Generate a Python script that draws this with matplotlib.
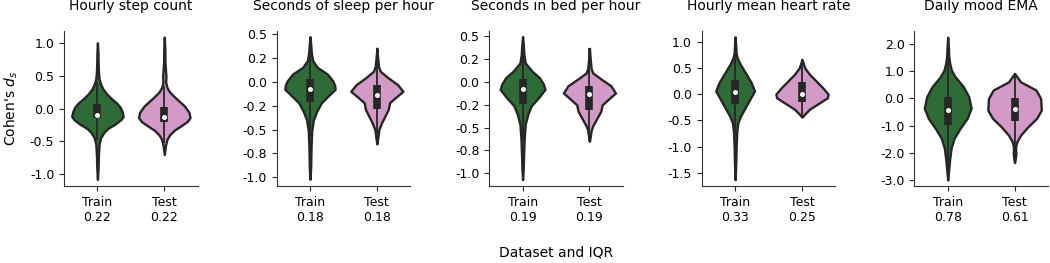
import matplotlib
matplotlib.use("Agg")
import matplotlib.pyplot as plt
import numpy as np
from matplotlib.ticker import FormatStrFormatter, MultipleLocator

# panel titles and IQR labels under the categories
titles = ["Hourly step count", "Seconds of sleep per hour", "Seconds in bed per hour",
          "Hourly mean heart rate", "Daily mood EMA"]
groups = ["Train", "Test"]
iqr_train = ["0.22", "0.18", "0.19", "0.33", "0.78"]
iqr_test = ["0.22", "0.18", "0.19", "0.25", "0.61"]

# violin outlines: y values and half widths (x data units)
train_y = [
    [1.0, 0.85, 0.7, 0.55, 0.45, 0.38, 0.3, 0.22, 0.15, 0.08, 0.02, -0.05, -0.12, -0.17, -0.24, -0.3, -0.36, -0.44, -0.54, -0.7, -0.9, -1.08],
    [0.47, 0.38, 0.3, 0.22, 0.15, 0.08, 0.01, -0.04, -0.08, -0.13, -0.22, -0.31, -0.4, -0.52, -0.7, -0.9, -1.02],
    [0.5, 0.4, 0.3, 0.21, 0.12, 0.05, -0.02, -0.08, -0.17, -0.26, -0.35, -0.46, -0.61, -0.8, -0.95, -1.07],
    [1.09, 0.9, 0.78, 0.69, 0.57, 0.38, 0.22, 0.06, -0.1, -0.26, -0.42, -0.55, -0.71, -1.0, -1.3, -1.63],
    [2.25, 1.9, 1.55, 1.29, 1.04, 0.8, 0.43, 0.06, -0.36, -0.73, -1.1, -1.47, -1.83, -2.26, -2.6, -3.0],
]
train_w = [
    [0.0, 0.008, 0.01, 0.015, 0.025, 0.045, 0.08, 0.14, 0.21, 0.29, 0.34, 0.37, 0.385, 0.35, 0.26, 0.16, 0.1, 0.05, 0.025, 0.015, 0.01, 0.0],
    [0.0, 0.012, 0.02, 0.04, 0.11, 0.26, 0.34, 0.37, 0.375, 0.3, 0.17, 0.1, 0.05, 0.025, 0.015, 0.01, 0.0],
    [0.0, 0.012, 0.02, 0.04, 0.14, 0.25, 0.31, 0.335, 0.24, 0.13, 0.08, 0.04, 0.025, 0.015, 0.01, 0.0],
    [0.0, 0.01, 0.015, 0.03, 0.075, 0.165, 0.24, 0.29, 0.22, 0.15, 0.08, 0.04, 0.025, 0.015, 0.01, 0.0],
    [0.0, 0.01, 0.015, 0.03, 0.055, 0.11, 0.235, 0.315, 0.35, 0.29, 0.185, 0.095, 0.05, 0.028, 0.015, 0.0],
]
test_y = [
    [1.087, 0.9, 0.7, 0.55, 0.48, 0.4, 0.32, 0.25, 0.16, 0.04, -0.06, -0.14, -0.2, -0.27, -0.33, -0.4, -0.47, -0.55, -0.7],
    [0.35, 0.25, 0.16, 0.11, 0.04, -0.03, -0.1, -0.17, -0.22, -0.29, -0.36, -0.43, -0.5, -0.58, -0.65],
    [0.37, 0.25, 0.15, 0.1, 0.03, -0.04, -0.12, -0.19, -0.25, -0.32, -0.4, -0.48, -0.53, -0.6, -0.65],
    [0.66, 0.5, 0.38, 0.25, 0.12, 0.0, -0.07, -0.16, -0.29, -0.39, -0.44],
    [0.92, 0.61, 0.31, 0.0, -0.43, -0.73, -1.04, -1.35, -1.59, -1.75, -1.9, -2.02, -2.2, -2.36],
]
test_w = [
    [0.0, 0.008, 0.01, 0.02, 0.025, 0.02, 0.04, 0.08, 0.17, 0.3, 0.37, 0.385, 0.34, 0.24, 0.15, 0.08, 0.04, 0.02, 0.0],
    [0.0, 0.012, 0.025, 0.05, 0.17, 0.31, 0.39, 0.27, 0.19, 0.17, 0.12, 0.07, 0.03, 0.015, 0.0],
    [0.0, 0.012, 0.025, 0.05, 0.18, 0.32, 0.39, 0.28, 0.19, 0.17, 0.11, 0.05, 0.025, 0.012, 0.0],
    [0.0, 0.04, 0.11, 0.21, 0.31, 0.39, 0.38, 0.27, 0.11, 0.035, 0.0],
    [0.0, 0.09, 0.32, 0.39, 0.4, 0.33, 0.2, 0.09, 0.035, 0.018, 0.016, 0.02, 0.012, 0.0],
]

# inner box: quartiles, median and whisker ends
train_q1 = [-0.15, -0.21, -0.24, -0.18, -0.98]
train_med = [-0.10, -0.08, -0.08, 0.04, -0.43]
train_q3 = [0.07, 0.03, 0.03, 0.26, 0.06]
train_lo = [-0.48, -0.57, -0.645, -0.84, -2.54]
train_hi = [0.40, 0.39, 0.43, 0.92, 1.62]
test_q1 = [-0.20, -0.29, -0.31, -0.16, -0.82]
test_med = [-0.13, -0.14, -0.13, 0.0, -0.38]
test_q3 = [0.02, -0.03, -0.04, 0.22, 0.03]
test_lo = [-0.53, -0.65, -0.65, -0.44, -2.1]
test_hi = [0.35, 0.35, 0.37, 0.66, 0.92]

ylims = [(-1.18, 1.18), (-1.09, 0.53), (-1.14, 0.56), (-1.75, 1.2), (-3.22, 2.48)]
ysteps = [0.5, 0.25, 0.25, 0.5, 1.0]

colors = ["#2e6b36", "#d39ac7"]
edge = "#262626"

plt.rcParams["font.family"] = "DejaVu Sans"

fig, axes = plt.subplots(1, 5, figsize=(10.5, 2.63), dpi=100)
fig.subplots_adjust(left=64 / 1050, right=1048 / 1050, bottom=1 - 186 / 263,
                    top=1 - 31 / 263, wspace=79 / 134)


def draw_violin(ax, pos, ys, ws, color, q1, med, q3, lo, hi):
    ys = np.array(ys)
    ws = np.array(ws)
    ax.fill_betweenx(ys, pos - ws, pos + ws, facecolor=color, edgecolor=edge,
                     linewidth=1.7, joinstyle="round", zorder=2)
    ax.plot([pos, pos], [lo, hi], color=edge, lw=1.3, solid_capstyle="butt", zorder=3)
    ax.plot([pos, pos], [q1, q3], color=edge, lw=5.5, solid_capstyle="butt", zorder=3)
    ax.plot([pos], [med], "o", color="white", markersize=3.6, markeredgewidth=0, zorder=4)


for i, ax in enumerate(axes):
    draw_violin(ax, 0, train_y[i], train_w[i], colors[0],
                train_q1[i], train_med[i], train_q3[i], train_lo[i], train_hi[i])
    draw_violin(ax, 1, test_y[i], test_w[i], colors[1],
                test_q1[i], test_med[i], test_q3[i], test_lo[i], test_hi[i])
    ax.set_xlim(-0.5, 1.5)
    ax.set_ylim(*ylims[i])
    ax.yaxis.set_major_locator(MultipleLocator(ysteps[i]))
    ax.yaxis.set_major_formatter(FormatStrFormatter("%.1f"))
    ax.set_xticks([0, 1])
    ax.set_xticklabels([f"{groups[0]}\n{iqr_train[i]}", f"{groups[1]}\n{iqr_test[i]}"])
    ax.tick_params(labelsize=9, colors="#262626", labelcolor="black")
    ax.set_title(titles[i], fontsize=10, pad=15)
    for s in ["top", "right"]:
        ax.spines[s].set_visible(False)
    for s in ["left", "bottom"]:
        ax.spines[s].set_color("#333333")

axes[0].set_ylabel("Cohen's $d_s$", fontsize=10, labelpad=7)
axes[2].set_xlabel("Dataset and IQR", fontsize=10, labelpad=16)

fig.savefig("out.png", dpi=100)
